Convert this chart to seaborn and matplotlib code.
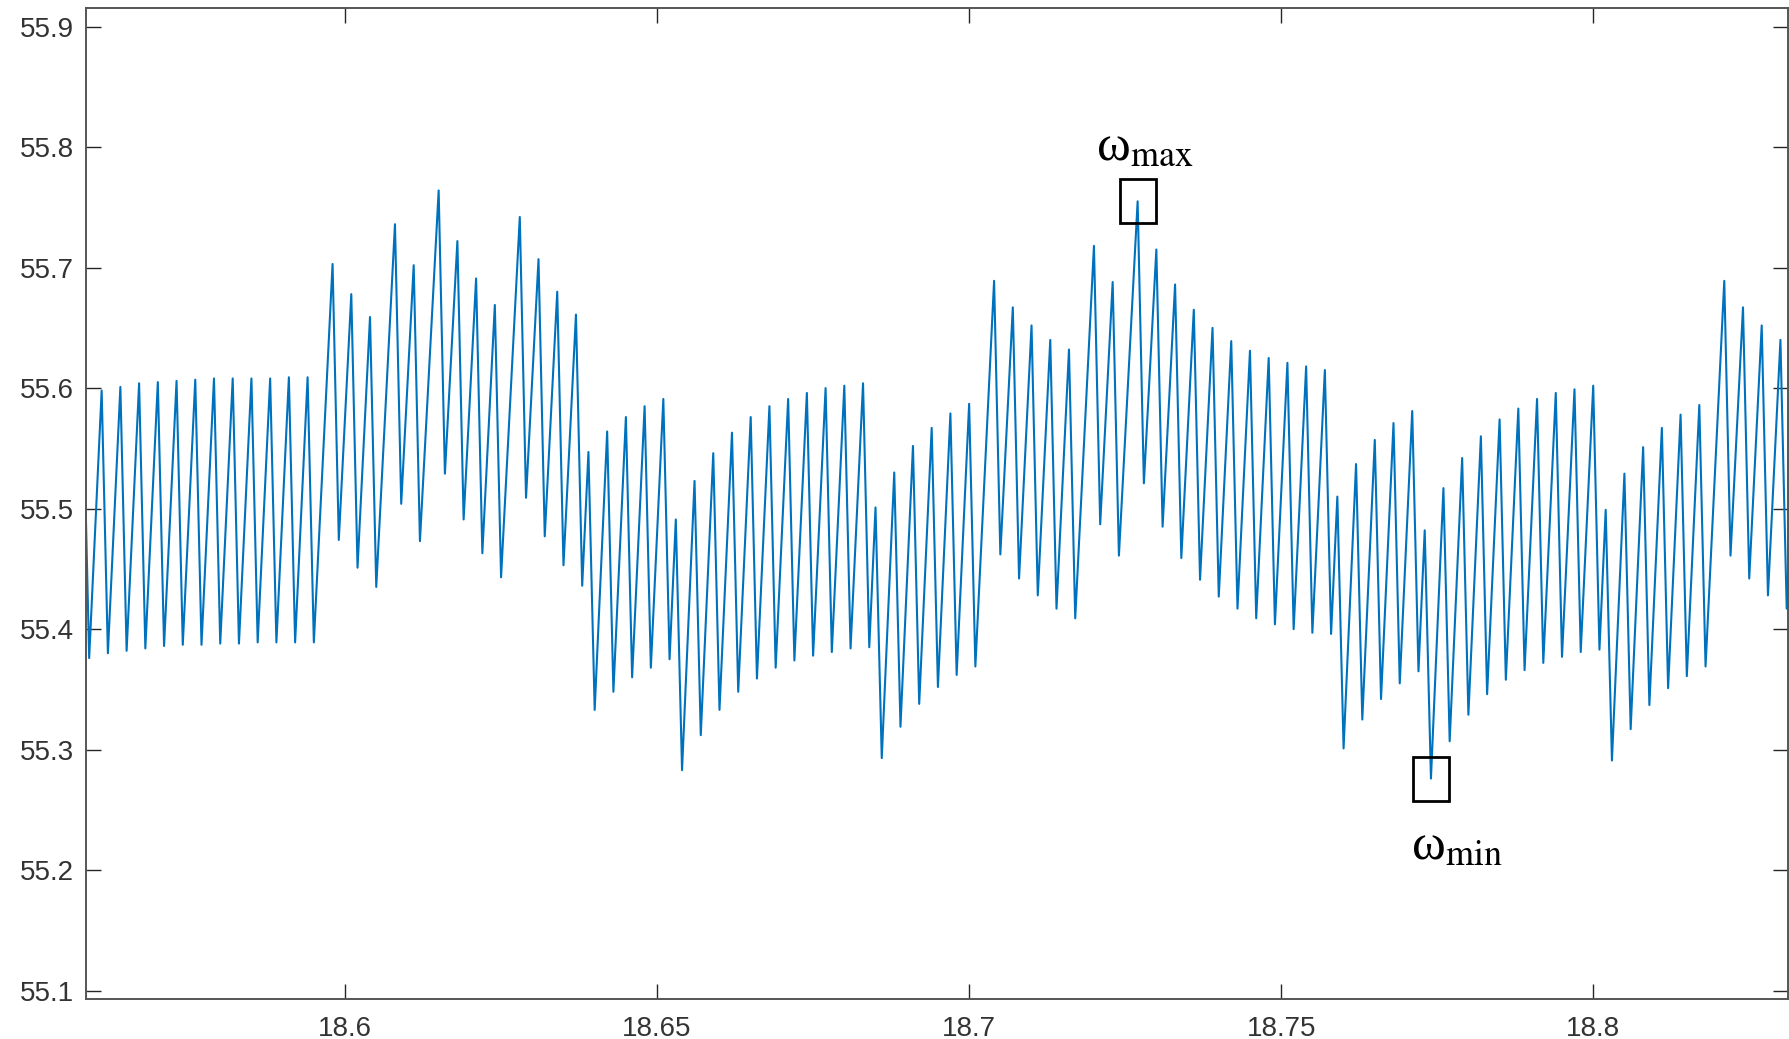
import numpy as np
import pandas as pd
import matplotlib
matplotlib.use("Agg")
import matplotlib.pyplot as plt
import seaborn as sns
from matplotlib.patches import Rectangle

# turning points of the speed signal (1 ms samples)
t = [18.558, 18.559, 18.561, 18.562, 18.564, 18.565, 18.567, 18.568, 18.570, 18.571,
     18.573, 18.574, 18.576, 18.577, 18.579, 18.580, 18.582, 18.583, 18.585, 18.586,
     18.588, 18.589, 18.591, 18.592, 18.594, 18.595, 18.598, 18.599, 18.601, 18.602,
     18.604, 18.605, 18.608, 18.609, 18.611, 18.612, 18.615, 18.616, 18.618, 18.619,
     18.621, 18.622, 18.624, 18.625, 18.628, 18.629, 18.631, 18.632, 18.634, 18.635,
     18.637, 18.638, 18.639, 18.640, 18.642, 18.643, 18.645, 18.646, 18.648, 18.649,
     18.651, 18.652, 18.653, 18.654, 18.656, 18.657, 18.659, 18.660, 18.662, 18.663,
     18.665, 18.666, 18.668, 18.669, 18.671, 18.672, 18.674, 18.675, 18.677, 18.678,
     18.680, 18.681, 18.683, 18.684, 18.685, 18.686, 18.688, 18.689, 18.691, 18.692,
     18.694, 18.695, 18.697, 18.698, 18.700, 18.701, 18.704, 18.705, 18.707, 18.708,
     18.710, 18.711, 18.713, 18.714, 18.716, 18.717, 18.720, 18.721, 18.723, 18.724,
     18.727, 18.728, 18.730, 18.731, 18.733, 18.734, 18.736, 18.737, 18.739, 18.740,
     18.742, 18.743, 18.745, 18.746, 18.748, 18.749, 18.751, 18.752, 18.754, 18.755,
     18.757, 18.758, 18.759, 18.760, 18.762, 18.763, 18.765, 18.766, 18.768, 18.769,
     18.771, 18.772, 18.773, 18.774, 18.776, 18.777, 18.779, 18.780, 18.782, 18.783,
     18.785, 18.786, 18.788, 18.789, 18.791, 18.792, 18.794, 18.795, 18.797, 18.798,
     18.800, 18.801, 18.802, 18.803, 18.805, 18.806, 18.808, 18.809, 18.811, 18.812,
     18.814, 18.815, 18.817, 18.818, 18.821, 18.822, 18.824, 18.825, 18.827, 18.828,
     18.830, 18.831, 18.833]

omega = [55.598, 55.376, 55.598, 55.380, 55.601, 55.382, 55.604, 55.384, 55.605, 55.386,
         55.606, 55.387, 55.607, 55.387, 55.608, 55.388, 55.608, 55.388, 55.608, 55.389,
         55.608, 55.389, 55.609, 55.389, 55.609, 55.389, 55.703, 55.474, 55.678, 55.451,
         55.659, 55.435, 55.736, 55.504, 55.702, 55.473, 55.764, 55.529, 55.722, 55.491,
         55.691, 55.463, 55.669, 55.443, 55.742, 55.509, 55.707, 55.477, 55.680, 55.453,
         55.661, 55.436, 55.547, 55.333, 55.564, 55.348, 55.576, 55.360, 55.585, 55.368,
         55.591, 55.375, 55.491, 55.283, 55.523, 55.312, 55.546, 55.333, 55.563, 55.348,
         55.576, 55.359, 55.585, 55.368, 55.591, 55.374, 55.596, 55.378, 55.600, 55.381,
         55.602, 55.384, 55.604, 55.385, 55.501, 55.293, 55.530, 55.319, 55.552, 55.338,
         55.567, 55.352, 55.579, 55.362, 55.587, 55.369, 55.689, 55.462, 55.667, 55.442,
         55.652, 55.428, 55.640, 55.417, 55.632, 55.409, 55.718, 55.487, 55.688, 55.461,
         55.755, 55.521, 55.715, 55.485, 55.686, 55.459, 55.665, 55.441, 55.650, 55.427,
         55.639, 55.417, 55.631, 55.409, 55.625, 55.404, 55.621, 55.400, 55.618, 55.397,
         55.615, 55.396, 55.510, 55.301, 55.537, 55.325, 55.557, 55.342, 55.571, 55.355,
         55.581, 55.365, 55.482, 55.276, 55.517, 55.307, 55.542, 55.329, 55.560, 55.346,
         55.574, 55.358, 55.583, 55.366, 55.591, 55.372, 55.596, 55.377, 55.599, 55.381,
         55.602, 55.383, 55.499, 55.291, 55.529, 55.317, 55.551, 55.337, 55.567, 55.351,
         55.578, 55.361, 55.586, 55.369, 55.689, 55.461, 55.667, 55.442, 55.652, 55.428,
         55.640, 55.417, 55.630]

# samples marked with a box in the figure
t_wmax = 18.727
t_wmin = 18.774

xticks = [18.6, 18.65, 18.7, 18.75, 18.8]
xticklabels = ["18.6", "18.65", "18.7", "18.75", "18.8"]
yticks = [55.1, 55.2, 55.3, 55.4, 55.5, 55.6, 55.7, 55.8, 55.9]
yticklabels = ["55.1", "55.2", "55.3", "55.4", "55.5", "55.6", "55.7", "55.8", "55.9"]

df = pd.DataFrame({"t": t, "omega": omega})

sns.set_style("white")
plt.rcParams["font.family"] = ["Liberation Sans", "DejaVu Sans"]
plt.rcParams["mathtext.fontset"] = "stix"

fig = plt.figure(figsize=(17.89, 10.39), dpi=100)
ax = fig.add_axes([0.0481, 0.0385, 0.9513, 0.9538])

sns.lineplot(data=df, x="t", y="omega", estimator=None, sort=False,
             color="#0072BD", linewidth=1.5, ax=ax)

ax.set_xlim(18.5585, 18.8312)
ax.set_ylim(55.0931, 55.9154)
ax.set_xticks(xticks)
ax.set_xticklabels(xticklabels)
ax.set_yticks(yticks)
ax.set_yticklabels(yticklabels)
ax.set_xlabel("")
ax.set_ylabel("")

ax.tick_params(direction="in", length=11, width=1.0, color="#262626",
               labelsize=20, labelcolor="#333333",
               top=True, right=True, bottom=True, left=True)
ax.tick_params(axis="x", pad=12)
ax.tick_params(axis="y", pad=9)
for s in ax.spines.values():
    s.set_visible(True)
    s.set_color("#555555")
    s.set_linewidth(1.4)

# boxes around the marked samples
bw, bh = 0.00577, 0.0366
i_max = t.index(t_wmax)
i_min = t.index(t_wmin)
for i in (i_max, i_min):
    ax.add_patch(Rectangle((t[i] - bw / 2, omega[i] - bh / 2), bw, bh,
                           fill=False, edgecolor="black", linewidth=2.0, zorder=5))

ax.text(t[i_max] + 0.0012, omega[i_max] + 0.044, r"ω$_{\mathrm{max}}$",
        fontsize=37, ha="center", va="center", color="black",
        family=["Liberation Serif", "DejaVu Serif"])
ax.text(t[i_min] + 0.0041, omega[i_min] - 0.057, r"ω$_{\mathrm{min}}$",
        fontsize=37, ha="center", va="center", color="black",
        family=["Liberation Serif", "DejaVu Serif"])

fig.savefig("out.png", dpi=100)
